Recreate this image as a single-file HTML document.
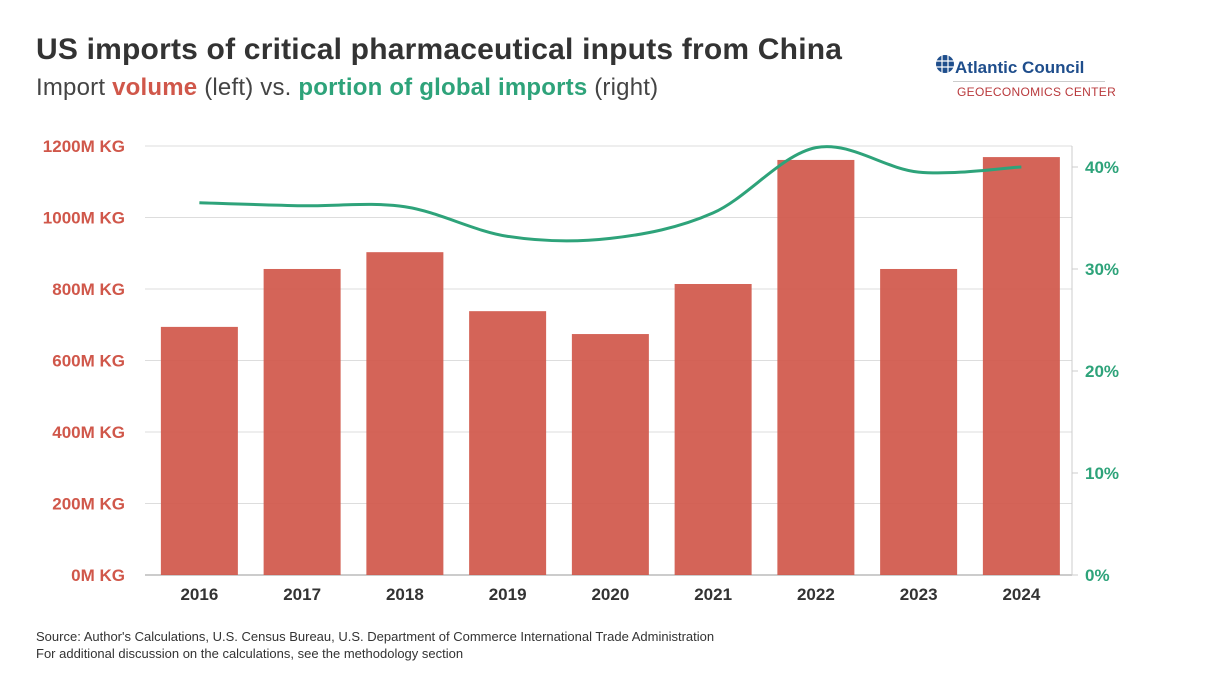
<!DOCTYPE html>
<html><head><meta charset="utf-8"><style>
body{margin:0;background:#fff;font-family:"Liberation Sans",sans-serif;}
#wrap{position:relative;width:1230px;height:683px;overflow:hidden;background:#fff;}
.t{position:absolute;white-space:nowrap;}
</style></head><body>
<div id="wrap">
<div class="t" style="left:36px;top:33px;font-size:30px;font-weight:bold;color:#333;letter-spacing:0.2px">US imports of critical pharmaceutical inputs from China</div>
<div class="t" style="left:36px;top:74px;font-size:24px;color:#444;letter-spacing:0.2px">Import <span style="color:#d0574a;font-weight:bold">volume</span> (left) vs. <span style="color:#2ea37a;font-weight:bold">portion of global imports</span> (right)</div>
<div style="position:absolute;left:935px;top:53px;">
<svg width="20" height="20" style="position:absolute;left:0;top:1px"><circle cx="10" cy="10" r="9" fill="#1f4e8c"/><path d="M1 7h18M1 13h18M7 1v18M13 1v18" stroke="#fff" stroke-width="1.2"/></svg>
<div class="t" style="left:20px;top:5px;font-size:17px;font-weight:bold;color:#1f4e8c;">Atlantic Council</div>
<div style="position:absolute;left:18px;top:28px;width:152px;height:1px;background:#ccc"></div>
<div class="t" style="left:22px;top:32px;font-size:12px;color:#b9393c;letter-spacing:0.3px">GEOECONOMICS CENTER</div>
</div>
<svg id="chart" width="1230" height="683" style="position:absolute;left:0;top:0"></svg>
<div class="t" style="left:36px;top:628px;font-size:13px;color:#333;line-height:17px;">Source: Author's Calculations, U.S. Census Bureau, U.S. Department of Commerce International Trade Administration<br>For additional discussion on the calculations, see the methodology section</div>
</div>
<script>
const years=["2016","2017","2018","2019","2020","2021","2022","2023","2024"];
const volumes=[694,856,903,738,674,814,1161,856,1169];
const shares=[36.5,36.2,36.1,33.2,33.0,35.5,41.9,39.5,40.0];
const leftTicks=[0,200,400,600,800,1000,1200];
const rightTicks=[0,10,20,30,40];
const NS="http://www.w3.org/2000/svg";
const svg=document.getElementById('chart');
const x0=148,bw=102.75,yB=575,yT=146;
const yL=v=>yB-(v/1200)*(yB-yT);
const yR=p=>yB-p*10.2;
const xC=i=>x0+bw*i+bw/2;
function mk(t,a){const e=document.createElementNS(NS,t);for(const k in a)e.setAttribute(k,a[k]);svg.appendChild(e);return e;}
leftTicks.forEach(v=>{
 const l=mk('line',{x1:145,x2:1072,y1:yL(v),y2:yL(v),stroke:v===0?'#999':'#ddd','stroke-width':1});
 
 const t=mk('text',{x:125,y:yL(v)+6,'text-anchor':'end','font-size':17,'font-weight':'bold',fill:'#d0574a'});
 t.textContent=v+'M KG';
});
mk('line',{x1:1072,x2:1072,y1:yT,y2:yB,stroke:'#ccc'});
rightTicks.forEach(p=>{
 mk('line',{x1:1072,x2:1078,y1:yR(p),y2:yR(p),stroke:'#ccc'});
 const t=mk('text',{x:1085,y:yR(p)+6,'font-size':17,'font-weight':'bold',fill:'#2ea37a'});
 t.textContent=p+'%';
});
years.forEach((y,i)=>{
 const r=mk('rect',{x:xC(i)-38.5,y:yL(volumes[i]),width:77,height:yB-yL(volumes[i]),fill:'#d0574a',opacity:0.92});
 
 const t=mk('text',{x:xC(i),y:600,'text-anchor':'middle','font-size':17,'font-weight':'bold',fill:'#333'});
 t.textContent=y;
});
const pts=shares.map((s,i)=>[xC(i),yR(s)]);
let d='M'+pts[0][0]+','+pts[0][1];
for(let i=0;i<pts.length-1;i++){
 const p0=pts[Math.max(0,i-1)],p1=pts[i],p2=pts[i+1],p3=pts[Math.min(pts.length-1,i+2)];
 const c1=[p1[0]+(p2[0]-p0[0])/6,p1[1]+(p2[1]-p0[1])/6],c2=[p2[0]-(p3[0]-p1[0])/6,p2[1]-(p3[1]-p1[1])/6];
 d+=` C${c1[0]},${c1[1]} ${c2[0]},${c2[1]} ${p2[0]},${p2[1]}`;
}
const ln=mk('path',{d:d,fill:'none',stroke:'#2ea37a','stroke-width':3});

</script>
</body></html>
